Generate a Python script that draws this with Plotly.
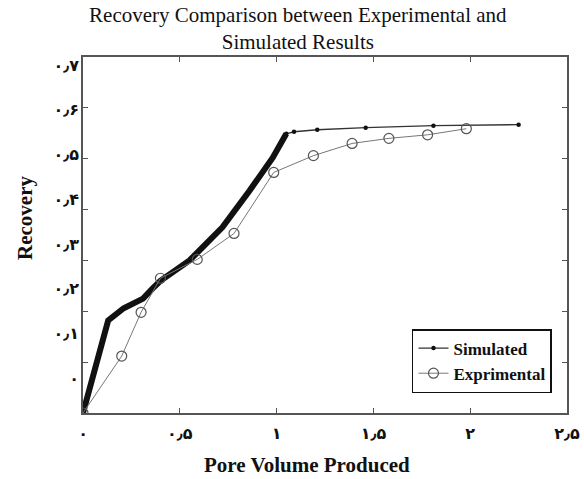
import plotly.graph_objects as go

# Simulated recovery: dense early section (drawn heavy) and sparse tail
sim_dense_x = [0.0, 0.05, 0.10, 0.13, 0.21, 0.31, 0.36, 0.40, 0.55, 0.72, 0.86, 0.98, 1.05]
sim_dense_y = [0.0, 0.072, 0.15, 0.182, 0.206, 0.225, 0.245, 0.26, 0.30, 0.365, 0.437, 0.502, 0.549]
sim_tail_x = [1.05, 1.09, 1.21, 1.46, 1.81, 2.25]
sim_tail_y = [0.549, 0.553, 0.557, 0.561, 0.565, 0.567]

# Experimental recovery
exp_x = [0.0, 0.20, 0.30, 0.40, 0.59, 0.78, 0.985, 1.19, 1.39, 1.58, 1.78, 1.98]
exp_y = [0.0, 0.112, 0.198, 0.265, 0.302, 0.353, 0.473, 0.506, 0.53, 0.54, 0.547, 0.559]

x_ticks = [0, 0.5, 1, 1.5, 2, 2.5]
x_tick_text = ["۰", "۰٫۵", "۱", "۱٫۵", "۲", "۲٫۵"]
y_ticks = [0, 0.1, 0.2, 0.3, 0.4, 0.5, 0.6, 0.7]
y_tick_text = ["۰", "۰٫۱", "۰٫۲", "۰٫۳", "۰٫۴", "۰٫۵", "۰٫۶", "۰٫۷"]

serif = "Liberation Serif, Times New Roman, serif"
digits = "DejaVu Sans, sans-serif"
axis_col = "#555555"

fig = go.Figure()
fig.add_trace(go.Scatter(
    x=sim_dense_x, y=sim_dense_y, mode="lines",
    line=dict(color="#111111", width=6), showlegend=False,
    legendgroup="sim", hoverinfo="skip"))
fig.add_trace(go.Scatter(
    x=sim_tail_x, y=sim_tail_y, mode="lines+markers", name="Simulated",
    legendgroup="sim",
    line=dict(color="#333333", width=1.3),
    marker=dict(symbol="circle", size=4.5, color="#111111")))
fig.add_trace(go.Scatter(
    x=exp_x, y=exp_y, mode="lines+markers", name="Exprimental",
    line=dict(color="#777777", width=1),
    marker=dict(symbol="circle-open", size=10, color="#555555",
                line=dict(width=1.2))))
# carrier for the label-only y axis
fig.add_trace(go.Scatter(x=[0], y=[0], yaxis="y2", mode="lines",
                         line=dict(width=0), opacity=0,
                         showlegend=False, hoverinfo="skip"))

fig.update_layout(
    width=584, height=479,
    margin=dict(l=83, r=17, t=57, b=66, autoexpand=False),
    paper_bgcolor="white", plot_bgcolor="white",
    title=dict(
        text="Recovery Comparison between Experimental and<br>Simulated Results",
        x=0.51, xref="container", xanchor="center",
        y=0.955, yref="container", yanchor="top",
        font=dict(family=serif, size=21, color="#111111")),
    xaxis=dict(
        range=[0, 2.5], tickvals=x_ticks, ticktext=x_tick_text,
        ticks="inside", ticklen=5, tickcolor=axis_col,
        showline=True, linecolor=axis_col, linewidth=1.5, mirror="ticks",
        showgrid=False, zeroline=False, automargin=False,
        tickfont=dict(family=digits, size=16, color="#111111", weight="bold"),
        ticklabelstandoff=5),
    yaxis=dict(
        range=[0, 0.7], tickvals=y_ticks,
        ticks="inside", ticklen=5, tickcolor=axis_col,
        showline=True, linecolor=axis_col, linewidth=1.5, mirror="ticks",
        showgrid=False, zeroline=False, showticklabels=False,
        automargin=False),
    yaxis2=dict(
        overlaying="y", side="left", range=[-0.078, 0.718],
        tickvals=y_ticks, ticktext=y_tick_text,
        ticks="", showline=False, showgrid=False, zeroline=False,
        automargin=False,
        tickfont=dict(family=digits, size=16, color="#111111", weight="bold"),
        ticklabelstandoff=3),
    legend=dict(
        x=0.969, xanchor="right", y=0.056, yanchor="bottom",
        bgcolor="white", bordercolor="#111111", borderwidth=1.5,
        font=dict(family=serif, size=17, color="#111111", weight="bold"),
        tracegroupgap=0, itemwidth=30),
    annotations=[
        dict(text="<b>Pore Volume Produced</b>", xref="paper", yref="paper",
             x=(307 - 83) / 484, y=-(465 - 413) / 356,
             xanchor="center", yanchor="middle", showarrow=False,
             font=dict(family=serif, size=21, color="#111111")),
        dict(text="<b>Recovery</b>", xref="paper", yref="paper",
             x=-(83 - 25) / 484, y=(413 - 218) / 356,
             xanchor="center", yanchor="middle", showarrow=False,
             textangle=-90,
             font=dict(family=serif, size=21, color="#111111")),
    ],
)

fig.write_html("out.html")
